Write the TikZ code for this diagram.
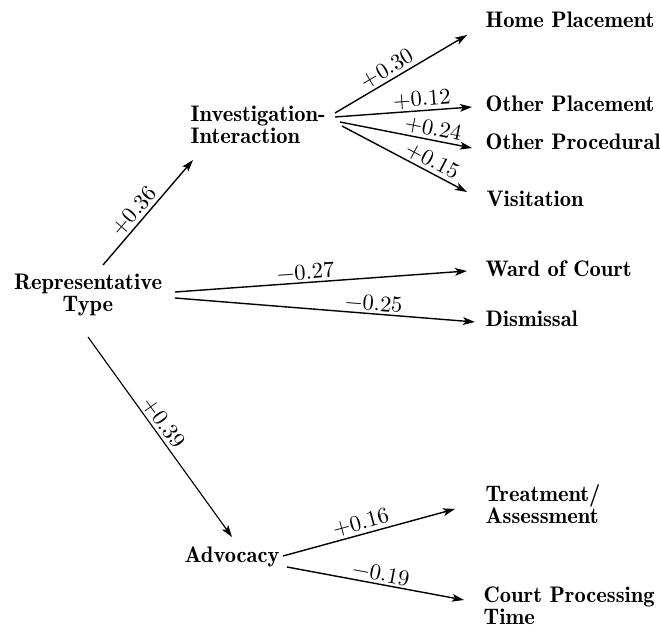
\documentclass[tikz,border=0pt]{standalone}
\usepackage{fontspec}
\setmainfont{lmroman10-regular}[Extension=.otf, BoldFont=lmromandemi10-regular]
\usepackage{tikz}
\usetikzlibrary{arrows.meta, calc, positioning}
\tikzset{
	vartext/.style={font=\fontsize{16}{15.6}\selectfont\bfseries, inner sep=0pt}
}
\tikzset{
	coeftext/.style={font=\fontsize{16}{16}\selectfont, inner sep=1.5pt, sloped, above}
}

\begin{document}
\begin{tikzpicture}[x=0.025cm, y=-0.025cm, >={Stealth[length=8.5pt, width=5.5pt, inset=2pt]}, line width=1pt]
      \useasboundingbox (0,0) rectangle (660,630);
      \node[vartext, align=center] (rep) at (88,295) {Representative\\Type};
      \node[vartext, align=left, anchor=west] (inv) at (190,125) {Investigation-\\Interaction};
      \node[vartext] (adv) at (232,557) {Advocacy};
      \node[vartext, anchor=base west] (home) at (485,28) {Home Placement};
      \node[vartext, anchor=base west] (othpl) at (485,112) {Other Placement};
      \node[vartext, anchor=base west] (othpr) at (485,150) {Other Procedural};
      \node[vartext, anchor=base west] (visit) at (486,207) {Visitation};
      \node[vartext, anchor=base west] (ward) at (485,277) {Ward of Court};
      \node[vartext, anchor=base west] (dism) at (485,327) {Dismissal};
      \node[vartext, align=left, anchor=north west] (treat) at (485,484) {Treatment/\\Assessment};
      \node[vartext, align=left, anchor=north west] (court) at (483,586) {Court Processing\\Time};
      \draw[->] ($(rep)+(15,-30)$) -- ($(inv.west)+(3,35)$) node[coeftext, pos=0.44] {+0.36};
      \draw[->] ($(inv.west)+(145,-12)$) -- ($(home.base west)+(-18,7)$) node[coeftext, pos=0.44] {+0.30};
      \draw[->] ($(inv.west)+(145,-8)$) -- ($(othpl.base west)+(-13,-5)$) node[coeftext, pos=0.64] {+0.12};
      \draw[->] ($(inv.west)+(150,-3)$) -- ($(othpr.base west)+(-13,-2)$) node[coeftext, pos=0.69] {+0.24};
      \draw[->] ($(inv.west)+(152,1)$) -- ($(visit.base west)+(-19,-15)$) node[coeftext, pos=0.68] {+0.15};
      \draw[->] ($(rep)+(87,-3)$) -- ($(ward.base west)+(-18,-6)$) node[coeftext, pos=0.45] {−0.27};
      \draw[->] ($(rep)+(87,3)$) -- ($(dism.base west)+(-10,-5)$) node[coeftext, pos=0.66] {−0.25};
      \draw[->, line width=0.8pt] ($(rep)+(0,42)$) -- ($(adv)+(0,-20)$) node[coeftext, pos=0.46] {+0.39};
      \draw[->] ($(adv)+(51,-1)$) -- ($(treat.north west)+(-30,25)$) node[coeftext, pos=0.47] {+0.16};
      \draw[->] ($(adv)+(55,10)$) -- ($(court.north west)+(-19,14)$) node[coeftext, pos=0.52] {−0.19};
    \end{tikzpicture}
\end{document}
